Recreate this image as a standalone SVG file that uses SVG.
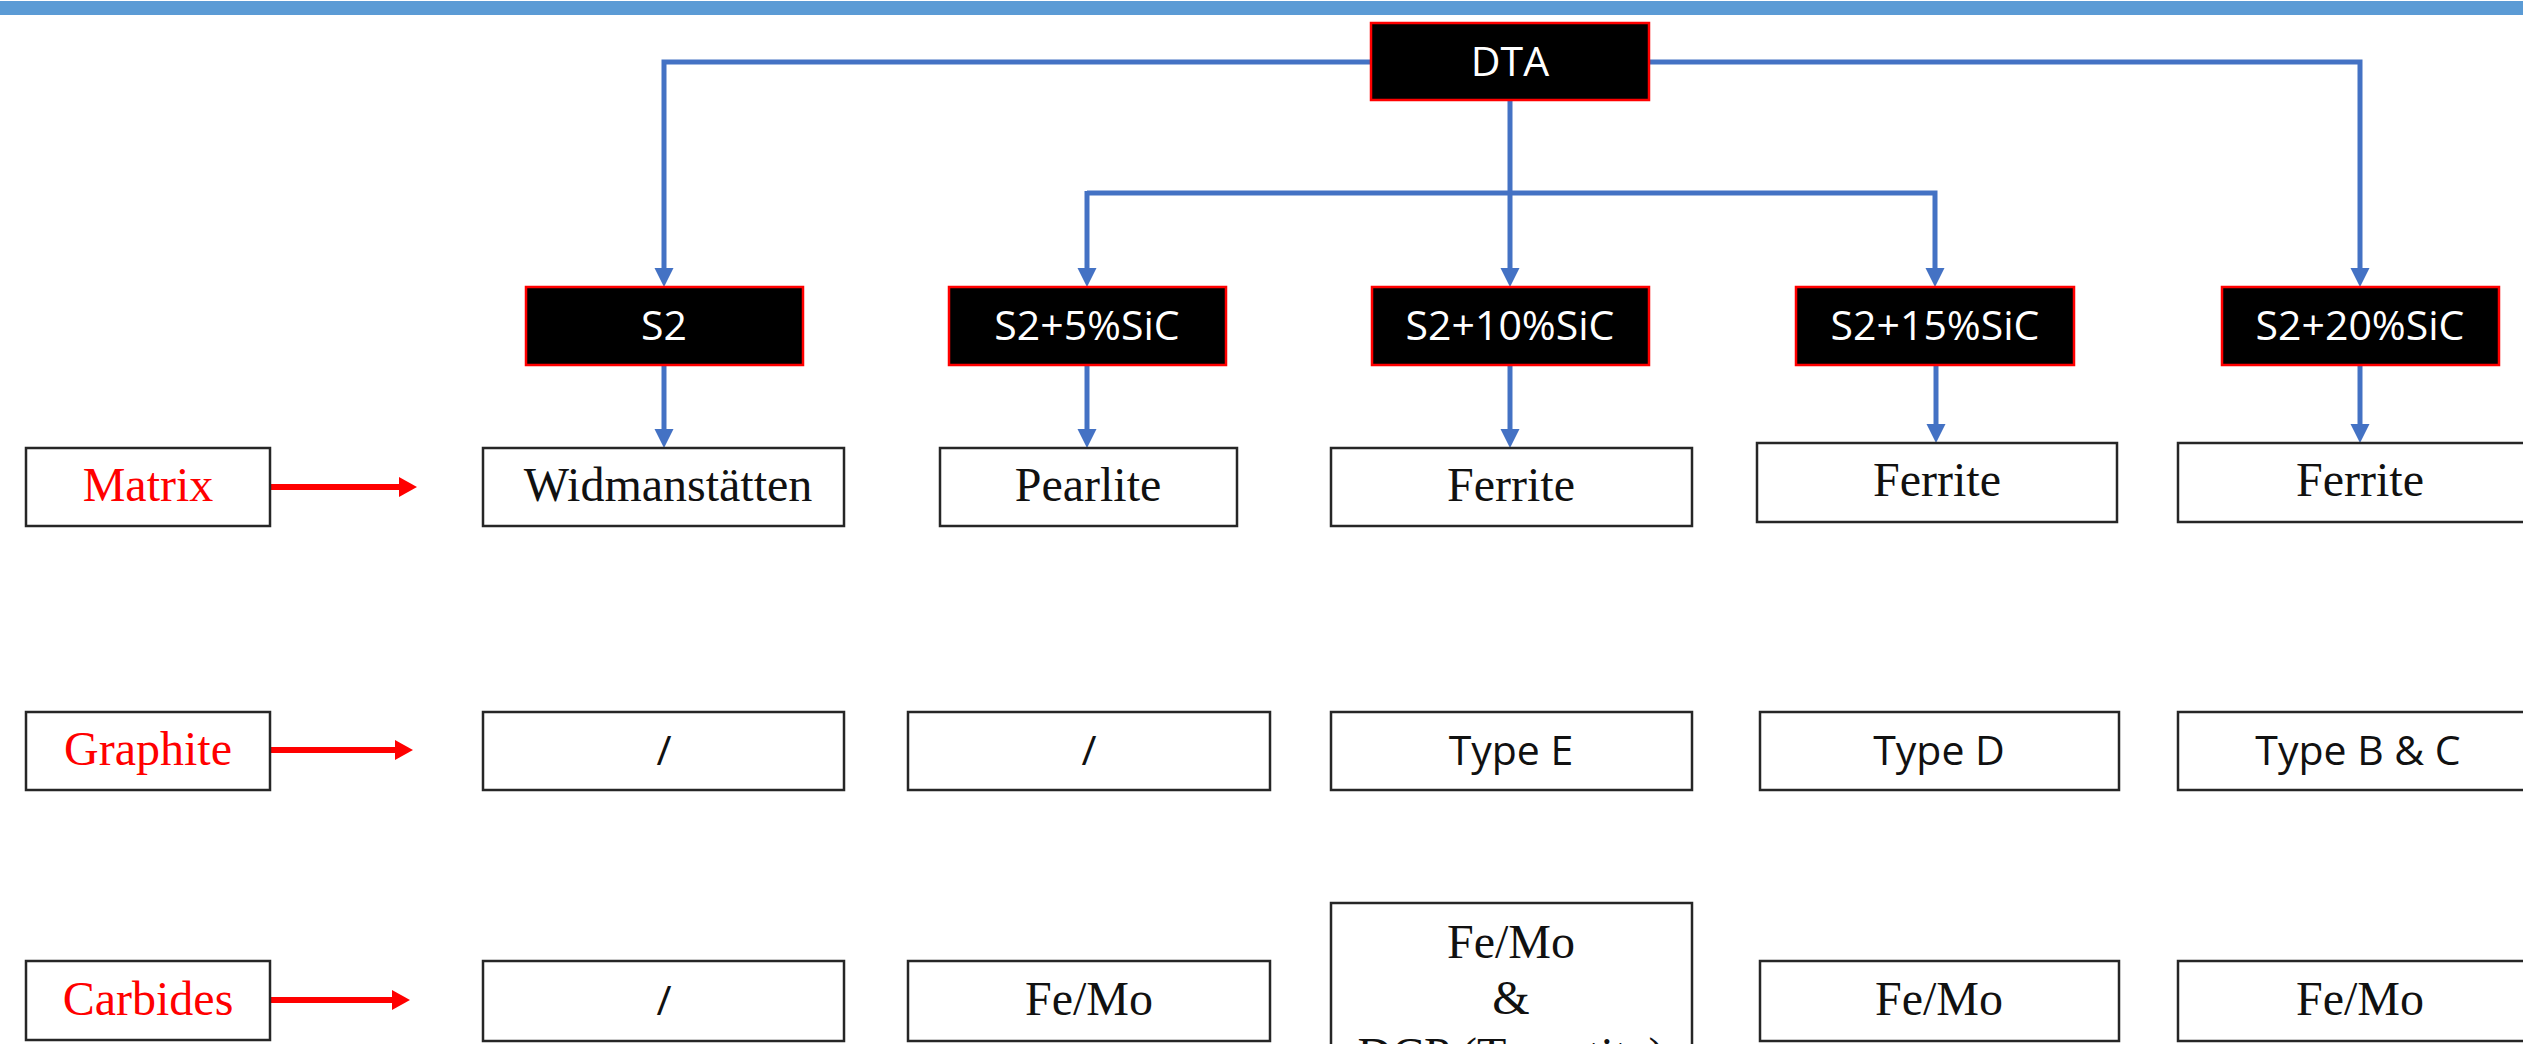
<svg xmlns="http://www.w3.org/2000/svg" width="2523" height="1044" viewBox="0 0 2523 1044">
<style>
.hd{fill:#000;stroke:#FF0000;stroke-width:2.5}
.bx{fill:#fff;stroke:#262626;stroke-width:2.5}
.st{font-family:"Open Sans","Noto Sans",sans-serif;font-size:41px;text-anchor:middle}
.w{fill:#fff}
.k{fill:#111}
.sr{font-family:"Liberation Serif","Times New Roman",serif;font-size:48px;text-anchor:middle;fill:#111}
.red{fill:#FF0000}
.cb{fill:none;stroke:#4472C4;stroke-width:5}
.cr{fill:none;stroke:#FF0000;stroke-width:6}
</style>
<defs>
<marker id="ab" markerUnits="userSpaceOnUse" markerWidth="20" markerHeight="20" refX="1" refY="9.5" orient="auto"><path d="M0,0 L19,9.5 L0,19 z" fill="#4472C4"/></marker>
<marker id="ar" markerUnits="userSpaceOnUse" markerWidth="20" markerHeight="21" refX="1" refY="10" orient="auto"><path d="M0,0 L18,10 L0,20 z" fill="#FF0000"/></marker>
</defs>
<rect x="0" y="1" width="2523" height="14" fill="#5B9BD5"/>
<g id="connectors">
<path class="cb" d="M1371,62 H664 V269" marker-end="url(#ab)"/>
<path class="cb" d="M1649,62 H2360 V269" marker-end="url(#ab)"/>
<path class="cb" d="M1510,100 V269" marker-end="url(#ab)"/>
<path class="cb" d="M1087,193 H1935 V269" marker-end="url(#ab)"/>
<path class="cb" d="M1087,191 V269" marker-end="url(#ab)"/>
<path class="cb" d="M664,365 V430" marker-end="url(#ab)"/>
<path class="cb" d="M1087,365 V430" marker-end="url(#ab)"/>
<path class="cb" d="M1510,365 V430" marker-end="url(#ab)"/>
<path class="cb" d="M1936,365 V425" marker-end="url(#ab)"/>
<path class="cb" d="M2360,365 V425" marker-end="url(#ab)"/>
<path class="cr" d="M270,487 H400" marker-end="url(#ar)"/>
<path class="cr" d="M270,750 H396" marker-end="url(#ar)"/>
<path class="cr" d="M270,1000 H393" marker-end="url(#ar)"/>
</g>
<g id="dta"><rect class="hd" x="1371" y="23" width="278" height="77"/><text class="st w" x="1510" y="76">DTA</text></g>
<g id="s2"><rect class="hd" x="526" y="287" width="277" height="78"/><text class="st w" x="664" y="340">S2</text></g>
<g id="s2-5"><rect class="hd" x="949" y="287" width="277" height="78"/><text class="st w" x="1087" y="340">S2+5%SiC</text></g>
<g id="s2-10"><rect class="hd" x="1372" y="287" width="277" height="78"/><text class="st w" x="1510" y="340">S2+10%SiC</text></g>
<g id="s2-15"><rect class="hd" x="1796" y="287" width="278" height="78"/><text class="st w" x="1935" y="340">S2+15%SiC</text></g>
<g id="s2-20"><rect class="hd" x="2222" y="287" width="277" height="78"/><text class="st w" x="2360" y="340">S2+20%SiC</text></g>
<g id="lbl-matrix"><rect class="bx" x="26" y="448" width="244" height="78"/><text class="sr red" x="148" y="501">Matrix</text></g>
<g id="lbl-graphite"><rect class="bx" x="26" y="712" width="244" height="78"/><text class="sr red" x="148" y="765">Graphite</text></g>
<g id="lbl-carbides"><rect class="bx" x="26" y="961" width="244" height="79"/><text class="sr red" x="148" y="1015">Carbides</text></g>
<g id="m-s2"><rect class="bx" x="483" y="448" width="361" height="78"/><text class="sr" x="668" y="501">Widmanstätten</text></g>
<g id="m-5"><rect class="bx" x="940" y="448" width="297" height="78"/><text class="sr" x="1088" y="501">Pearlite</text></g>
<g id="m-10"><rect class="bx" x="1331" y="448" width="361" height="78"/><text class="sr" x="1511" y="501">Ferrite</text></g>
<g id="m-15"><rect class="bx" x="1757" y="443" width="360" height="79"/><text class="sr" x="1937" y="496">Ferrite</text></g>
<g id="m-20"><rect class="bx" x="2178" y="443" width="362" height="79"/><text class="sr" x="2360" y="496">Ferrite</text></g>
<g id="g-s2"><rect class="bx" x="483" y="712" width="361" height="78"/><text class="st k" x="664" y="765">/</text></g>
<g id="g-5"><rect class="bx" x="908" y="712" width="362" height="78"/><text class="st k" x="1089" y="765">/</text></g>
<g id="g-10"><rect class="bx" x="1331" y="712" width="361" height="78"/><text class="st k" x="1511" y="765">Type E</text></g>
<g id="g-15"><rect class="bx" x="1760" y="712" width="359" height="78"/><text class="st k" x="1939" y="765">Type D</text></g>
<g id="g-20"><rect class="bx" x="2178" y="712" width="362" height="78"/><text class="st k" x="2358" y="765">Type B &amp; C</text></g>
<g id="c-s2"><rect class="bx" x="483" y="961" width="361" height="80"/><text class="st k" x="664" y="1015">/</text></g>
<g id="c-5"><rect class="bx" x="908" y="961" width="362" height="80"/><text class="sr" x="1089" y="1015">Fe/Mo</text></g>
<g id="c-10"><rect class="bx" x="1331" y="903" width="361" height="160"/><text class="sr" x="1511" y="958">Fe/Mo</text><text class="sr" x="1511" y="1014">&amp;</text><text class="sr" x="1511" y="1071">DCP (Troostite)</text></g>
<g id="c-15"><rect class="bx" x="1760" y="961" width="359" height="80"/><text class="sr" x="1939" y="1015">Fe/Mo</text></g>
<g id="c-20"><rect class="bx" x="2178" y="961" width="362" height="80"/><text class="sr" x="2360" y="1015">Fe/Mo</text></g>
</svg>
